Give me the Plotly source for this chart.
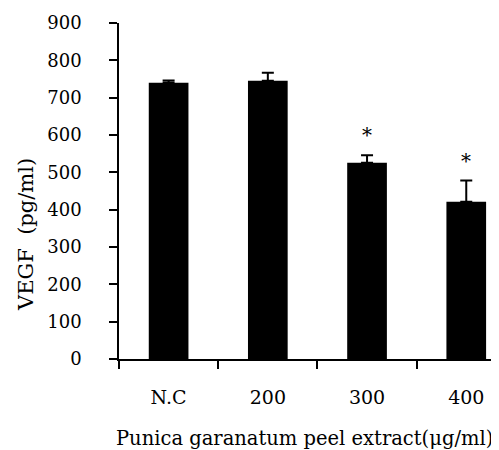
import plotly.graph_objects as go

categories = ["N.C", "200", "300", "400"]
vegf = [740, 745, 526, 421]
err_up = [6, 22, 20, 57]
significant = ["", "", "*", "*"]
y_title = "VEGF  (pg/ml)"
x_title = "Punica garanatum peel extract(μg/ml)"

font_family = "DejaVu Serif"

fig = go.Figure()
fig.add_trace(go.Bar(
    x=categories, y=vegf,
    width=0.40,
    marker=dict(color="black", line=dict(width=0)),
    error_y=dict(type="data", symmetric=False, array=err_up,
                 arrayminus=[0] * len(err_up),
                 color="black", thickness=2, width=6),
    showlegend=False,
))

for i, (v, e, s) in enumerate(zip(vegf, err_up, significant)):
    if s:
        fig.add_annotation(x=i, y=v + e, xref="x", yref="y", text=s,
                           showarrow=False, yanchor="bottom", yshift=6,
                           font=dict(family=font_family, size=20, color="black"))

# axis titles placed as annotations (offset as in the reference)
fig.add_annotation(x=0, y=0.369, xref="paper", yref="paper", text=y_title,
                   textangle=-90, showarrow=False, xanchor="center",
                   yanchor="middle", xshift=-93,
                   font=dict(family=font_family, size=21, color="black"))
fig.add_annotation(x=0.489, y=0, xref="paper", yref="paper", text=x_title,
                   showarrow=False, xanchor="center", yanchor="middle",
                   yshift=-79,
                   font=dict(family=font_family, size=19.5, color="black"))

fig.update_layout(
    width=491, height=442,
    margin=dict(l=111, r=0, t=15, b=91),
    plot_bgcolor="white", paper_bgcolor="white",
    font=dict(family=font_family, size=19, color="black"),
)
fig.update_xaxes(
    type="category",
    range=[-0.5, 3.33],
    showline=True, linecolor="black", linewidth=1.5,
    ticks="outside", tickson="boundaries", ticklen=8, tickwidth=1.5,
    tickcolor="black", ticklabelstandoff=20,
    tickfont=dict(family=font_family, size=19, color="black"),
    showgrid=False, zeroline=False,
)
fig.update_yaxes(
    range=[0, 900], dtick=100,
    showline=True, linecolor="black", linewidth=1.5,
    ticks="outside", ticklen=8, tickwidth=1.5, tickcolor="black",
    ticklabelstandoff=24,
    tickfont=dict(family=font_family, size=18, color="black"),
    showgrid=False, zeroline=False,
)

fig.write_html("out.html")
